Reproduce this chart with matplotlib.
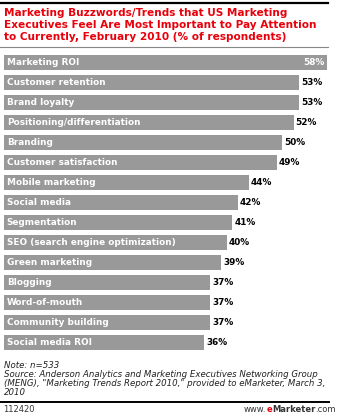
import matplotlib.pyplot as plt
from matplotlib.lines import Line2D

categories = [
    "Marketing ROI", "Customer retention", "Brand loyalty",
    "Positioning/differentiation", "Branding", "Customer satisfaction",
    "Mobile marketing", "Social media", "Segmentation",
    "SEO (search engine optimization)", "Green marketing", "Blogging",
    "Word-of-mouth", "Community building", "Social media ROI",
]
values = [58, 53, 53, 52, 50, 49, 44, 42, 41, 40, 39, 37, 37, 37, 36]

title = ("Marketing Buzzwords/Trends that US Marketing\n"
         "Executives Feel Are Most Important to Pay Attention\n"
         "to Currently, February 2010 (% of respondents)")
note = ("Note: n=533\n"
        "Source: Anderson Analytics and Marketing Executives Networking Group\n"
        "(MENG), \"Marketing Trends Report 2010,\" provided to eMarketer, March 3,\n"
        "2010")

W, H = 349, 416


def fx(px):
    return px / W


def fy(py):
    return 1 - py / H


fig = plt.figure(figsize=(W / 100, H / 100), dpi=100)
fig.patch.set_facecolor("white")

# axes: 0..58 maps to x=4..327 px, rows pitch 20 px starting at y=52.5
ax = fig.add_axes([fx(4), fy(352.5), fx(323), 300 / H])
ax.set_xlim(0, 58)
ax.set_ylim(len(categories) - 0.5, -0.5)
ax.axis("off")

ypos = list(range(len(categories)))
ax.barh(ypos, values, height=0.74, color="#999999", edgecolor="none")

for i, (cat, v) in enumerate(zip(categories, values)):
    ax.text(0.5, i, cat, color="white", fontsize=6.4, fontweight="bold",
            va="center", ha="left")
    if i == 0:
        ax.text(v - 0.5, i, f"{v}%", color="white", fontsize=6.4,
                fontweight="bold", va="center", ha="right")
    else:
        ax.text(v + 0.35, i, f"{v}%", color="black", fontsize=6.4,
                fontweight="bold", va="center", ha="left", clip_on=False)

# title and rules
fig.add_artist(Line2D([0, fx(328)], [fy(3), fy(3)], color="black", lw=1.6))
fig.text(fx(4), fy(8.5), title, color="#e8000b", fontsize=7.6,
         fontweight="bold", va="top", ha="left", linespacing=1.22)
fig.add_artist(Line2D([0, fx(328)], [fy(47), fy(47)], color="#888888", lw=0.8))

# footnote
fig.text(fx(4), fy(361), note, color="#222222", fontsize=6.2,
         fontstyle="italic", va="top", ha="left", linespacing=1.0)
fig.add_artist(Line2D([0, fx(329)], [fy(402), fy(402)], color="black", lw=1.4))
fig.text(fx(3), fy(410), "112420", color="#333333", fontsize=6,
         va="center", ha="left")

# eMarketer logo text, built piece by piece from the right edge
r = fig.canvas.get_renderer()
right = 336
t3 = fig.text(fx(right), fy(410), ".com", color="#333333", fontsize=6,
              va="center", ha="right")
w3 = t3.get_window_extent(r).width
t2 = fig.text(fx(right - w3), fy(410), "Marketer", color="#333333",
              fontsize=6, fontweight="bold", va="center", ha="right")
w2 = t2.get_window_extent(r).width
t1 = fig.text(fx(right - w3 - w2), fy(410), "e", color="#e8000b",
              fontsize=6, fontweight="bold", va="center", ha="right")
w1 = t1.get_window_extent(r).width
fig.text(fx(right - w3 - w2 - w1), fy(410), "www.", color="#333333",
         fontsize=6, va="center", ha="right")

fig.savefig("out.png", dpi=100)
